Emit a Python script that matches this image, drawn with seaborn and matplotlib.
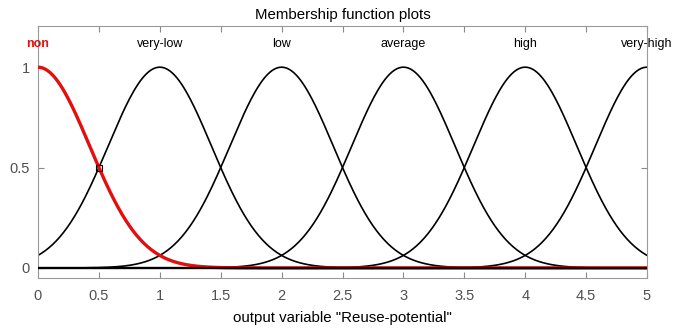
import numpy as np
import pandas as pd
import matplotlib
matplotlib.use("Agg")
import matplotlib.pyplot as plt
import seaborn as sns

# Membership function parameters (Gaussian MFs: gaussmf(x, [sigma, c]))
mf_names = ["non", "very-low", "low", "average", "high", "very-high"]
mf_centers = [0, 1, 2, 3, 4, 5]
mf_sigmas = [0.4247, 0.4247, 0.4247, 0.4247, 0.4247, 0.4247]
x_ticks = [0, 0.5, 1, 1.5, 2, 2.5, 3, 3.5, 4, 4.5, 5]
y_ticks = [0, 0.5, 1]
x_range = [0, 5]

sns.set_theme(style="white")
plt.rcParams['font.family'] = ['Liberation Sans', 'DejaVu Sans']

x = np.linspace(x_range[0], x_range[1], 501)
rows = []
for name, c, s in zip(mf_names, mf_centers, mf_sigmas):
    y = np.exp(-((x - c) ** 2) / (2 * s ** 2))
    rows.append(pd.DataFrame({"x": x, "mu": y, "mf": name}))
df = pd.concat(rows, ignore_index=True)

fig = plt.figure(figsize=(6.85, 3.29), dpi=100)
ax = fig.add_axes([38 / 685, 51 / 329, 609 / 685, 252 / 329])

others = df[df.mf != "non"]
sns.lineplot(data=others, x="x", y="mu", units="mf", estimator=None,
             color="black", lw=1.2, ax=ax, zorder=2)
sns.lineplot(data=df[df.mf == "non"], x="x", y="mu", color="#e01010",
             lw=2.4, ax=ax, zorder=3)

# zero baseline drawn on top
ax.axhline(0, color="black", lw=1.7, zorder=3.5)

# small marker square at selection point
ax.plot([0.5], [0.5], marker="s", ms=4, mfc="none", mec="black", mew=0.8, zorder=4)

for name, c in zip(mf_names, mf_centers):
    if name == "non":
        ax.text(c, 1.115, name, color="#e01010", fontsize=9, fontweight="bold",
                ha="center", va="center", clip_on=False)
    else:
        ax.text(c, 1.115, name, color="black", fontsize=9,
                ha="center", va="center", clip_on=False)

ax.set_xlim(*x_range)
ax.set_ylim(-0.05, 1.205)
ax.set_xticks(x_ticks)
ax.set_xticklabels([("%g" % t) for t in x_ticks])
ax.set_yticks(y_ticks)
ax.set_yticklabels([("%g" % t) for t in y_ticks])

for sp in ax.spines.values():
    sp.set_visible(True)
    sp.set_color("#9a9a9a")
    sp.set_linewidth(0.8)
ax.tick_params(axis="both", which="both", direction="in", length=4, width=0.8,
               color="#8a8a8a", labelcolor="#505050", labelsize=10.5,
               top=True, right=True, bottom=True, left=True)
ax.tick_params(axis="x", pad=8)
ax.tick_params(axis="y", pad=6)

ax.set_xlabel('output variable "Reuse-potential"', fontsize=10.8, color="black", labelpad=6)
ax.set_ylabel("")
ax.set_title("Membership function plots", fontsize=10.8, color="black", pad=5)
if ax.get_legend():
    ax.get_legend().remove()

fig.savefig("out.png", dpi=100)
